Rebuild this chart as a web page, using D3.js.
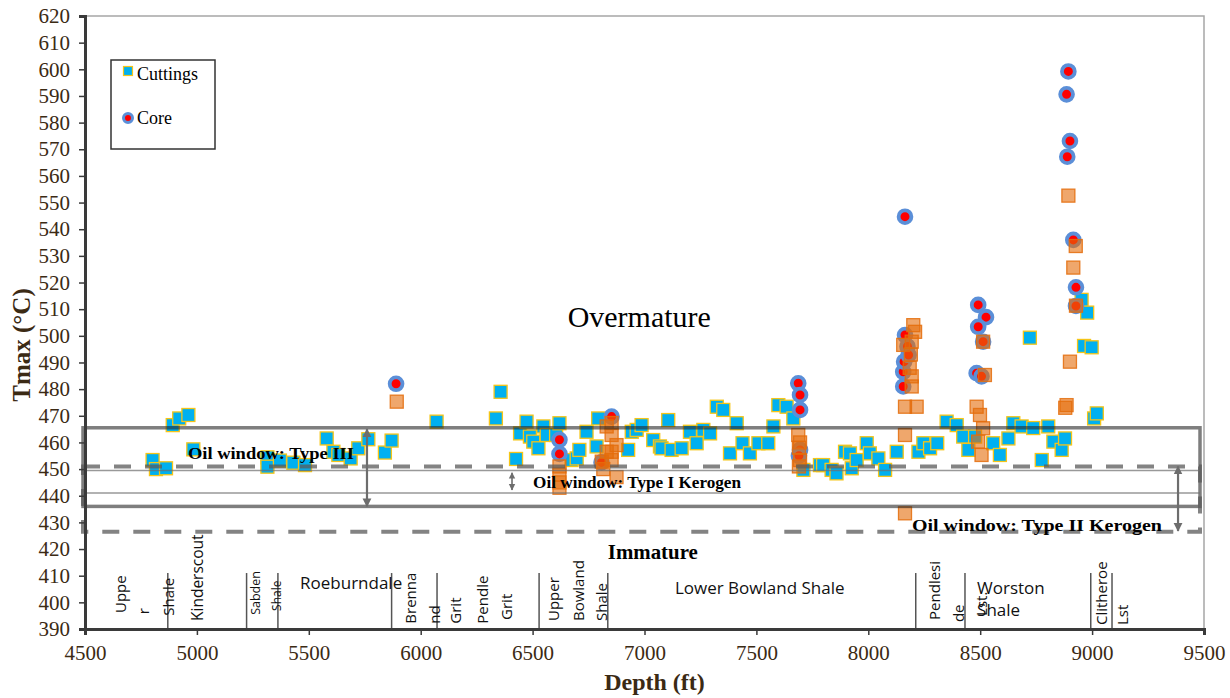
<!DOCTYPE html>
<html>
<head>
<meta charset="utf-8">
<script src="https://cdn.jsdelivr.net/npm/d3@7/dist/d3.min.js"></script>
<style>
  html, body { margin: 0; padding: 0; background: #fff; }
  svg { display: block; }
</style>
</head>
<body>
<svg id="chart" width="1230" height="698"></svg>
<script>
// ---- Tmax vs depth data ----
const cuttingsDepth = [4802,4817,4862,4892,4921,4962,4984,5315,5315,5371,5431,5483,5580,5610,5632,5687,5721,5766,5840,5870,
  6071,6336,6357,6426,6444,6473,6488,6503,6526,6548,6563,6605,6620,6674,6697,6709,6741,6786,6793,6927,6943,6965,6987,7039,
  7069,7076,7106,7121,7166,7203,7233,7263,7293,7323,7352,7382,7412,7438,7471,7509,7553,7576,7598,7635,7665,7710,7784,7798,
  7836,7858,7896,7918,7926,7948,7993,8007,8045,8075,8127,8224,8246,8276,8308,8350,8395,8424,8447,8477,8558,8588,8626,8648,
  8685,8722,8737,8775,8804,8827,8864,8879,8953,8964,8978,8998,9009,9021];
const cuttingsTmax = [453.4,450.0,450.3,466.5,469.0,470.3,457.4,454.4,450.9,453.2,452.4,451.5,461.5,456.5,455.3,454.0,457.8,461.2,456.2,460.7,
  467.8,469.0,479.0,453.8,463.4,467.8,462.2,460.3,457.8,466.0,462.8,462.8,467.2,453.4,454.0,457.2,464.0,458.5,469.0,457.2,464.0,464.7,466.5,460.9,
  458.5,457.8,468.4,457.2,457.8,464.0,459.7,464.7,463.4,473.4,472.2,455.9,467.2,459.7,455.9,459.7,459.7,466.0,474.0,473.4,469.0,449.7,451.5,451.5,
  449.7,448.4,456.5,455.9,450.3,453.4,459.7,455.9,454.0,449.7,456.5,456.5,459.7,457.8,459.7,467.8,466.5,462.2,457.2,462.2,459.7,455.3,461.5,467.2,
  466.0,499.3,465.4,453.4,466.0,460.3,457.2,461.5,513.5,496.2,508.7,495.7,469.0,470.9];

const coreDepth = [5890,6620,6620,6808,6853,7687,7695,7695,7695,7690,8156,8156,8160,8164,8175,8180,8164,
  8491,8526,8491,8513,8484,8506,8894,8886,8901,8889,8916,8928,8928];
const coreTmax = [482.0,461.0,455.7,452.5,469.7,482.2,477.8,472.2,457.2,455.0,481.0,486.5,490.3,500.3,496.0,492.8,544.7,
  511.6,507.0,503.4,497.8,486.0,484.8,599.2,590.6,573.1,567.2,536.0,518.2,511.2];

const sidewallDepth = [5893,6620,6620,6620,6620,6809,6816,6831,6853,6853,6875,6831,6853,6853,6875,
  7687,7695,7690,7695,7690,8156,8194,8201,8209,8190,8185,8194,8194,8164,8216,8164,8164,
  8513,8521,8484,8499,8513,8491,8506,8894,8927,8916,8928,8901,8886,8880];
const sidewallTmax = [475.3,451.0,448.0,445.0,443.0,452.8,450.0,466.0,467.3,462.8,459.0,456.5,456.5,453.4,447.0,
  462.8,460.0,458.0,453.4,451.0,496.6,497.8,504.0,501.5,493.0,488.0,484.8,481.0,473.4,473.4,462.8,433.4,
  497.8,485.3,473.4,470.3,465.3,460.3,455.3,552.6,533.7,525.6,511.3,490.3,474.0,473.0];

// oil window Tmax limits (°C)
const typeIIIWindow = [436, 465.5];
const typeIIWindow = [426.5, 451];
const typeIWindow = [441, 449.5];

// formation boundaries (ft)
const formationTops = [4870, 5222, 5362, 5870, 6073, 6529, 6836, 8212, 8432, 8994, 9089];

const xTicks = d3.range(4500, 9501, 500);
const yTicks = d3.range(390, 621, 10);

// formation names: vertical word pieces and horizontal names
const verticalNames = [
  {t: "Uppe", d: 4661, y: 396, s: 15}, {t: "r", d: 4764, y: 395.5, s: 15},
  {t: "Shale", d: 4875, y: 395, s: 15}, {t: "Kinderscout", d: 5005, y: 393, s: 15.5},
  {t: "Sabden", d: 5264, y: 395.3, s: 12.5}, {t: "Shale", d: 5358, y: 396.8, s: 12},
  {t: "Brenna", d: 5957, y: 392, s: 15}, {t: "nd", d: 6064, y: 392, s: 15},
  {t: "Grit", d: 6158, y: 392, s: 15}, {t: "Pendle", d: 6278, y: 392, s: 15},
  {t: "Grit", d: 6386, y: 393.4, s: 15}, {t: "Upper", d: 6596, y: 393, s: 15},
  {t: "Bowland", d: 6707, y: 393, s: 15}, {t: "Shale", d: 6810, y: 393, s: 15},
  {t: "Pendlesi", d: 8298, y: 393.4, s: 15}, {t: "de", d: 8405, y: 392.6, s: 15},
  {t: "Lst.", d: 8508, y: 394.9, s: 15}, {t: "Clitheroe", d: 9044, y: 391.5, s: 15},
  {t: "Lst", d: 9138, y: 391.5, s: 15}
];
const horizontalNames = [
  {t: "Roeburndale", d: 5461, y: 405}, {t: "Lower Bowland Shale", d: 7136, y: 403.1},
  {t: "Worston", d: 8486, y: 403.1}, {t: "Shale", d: 8486, y: 394.9}
];

// ---- layout ----
const svg = d3.select("#chart");
const x = d3.scaleLinear().domain([4500, 9500]).range([85, 1204]);
const y = d3.scaleLinear().domain([390, 620]).range([629, 16]);
const serif = "'Liberation Serif', 'Times New Roman', serif";
const sans = "'Open Sans', 'Noto Sans', sans-serif";

// plot frame (top/right)
svg.append("rect")
  .attr("x", x(4500)).attr("y", y(620))
  .attr("width", x(9500) - x(4500)).attr("height", y(390) - y(620))
  .attr("fill", "none").attr("stroke", "#a6a6a6").attr("stroke-width", 1.5);

// formation boundaries
svg.append("g").selectAll("line").data(formationTops).join("line")
  .attr("x1", d => x(d)).attr("x2", d => x(d))
  .attr("y1", y(411)).attr("y2", y(390))
  .attr("stroke", "#555").attr("stroke-width", 1.5);

svg.append("g").selectAll("text").data(verticalNames).join("text")
  .attr("transform", d => `translate(${x(d.d)},${y(d.y)}) rotate(-90)`)
  .attr("dy", "0.35em")
  .attr("font-family", sans).attr("font-size", d => d.s)
  .attr("fill", "#111")
  .text(d => d.t);

svg.append("g").selectAll("text").data(horizontalNames).join("text")
  .attr("x", d => x(d.d)).attr("y", d => y(d.y))
  .attr("font-family", sans).attr("font-size", 17)
  .attr("fill", "#111")
  .text(d => d.t);

// ---- markers ----
const sq = 13;
svg.append("g").selectAll("rect").data(cuttingsDepth).join("rect")
  .attr("x", (d, i) => x(d) - sq / 2)
  .attr("y", (d, i) => y(cuttingsTmax[i]) - sq / 2)
  .attr("width", sq).attr("height", sq)
  .attr("fill", "#00b0f0").attr("stroke", "#f5c518").attr("stroke-width", 1.3);

svg.append("g").selectAll("circle").data(coreDepth).join("circle")
  .attr("cx", d => x(d))
  .attr("cy", (d, i) => y(coreTmax[i]))
  .attr("r", 6.4)
  .attr("fill", "#ff0000").attr("stroke", "#5b8fd8").attr("stroke-width", 3.8);

svg.append("g").selectAll("rect").data(sidewallDepth).join("rect")
  .attr("x", d => x(d) - sq / 2)
  .attr("y", (d, i) => y(sidewallTmax[i]) - sq / 2)
  .attr("width", sq).attr("height", sq)
  .attr("fill", "#e46c0a").attr("fill-opacity", 0.6)
  .attr("stroke", "#e46c0a").attr("stroke-opacity", 0.85).attr("stroke-width", 1.3);

// ---- oil windows ----
const xL = 83, xR = 1200;
const win = svg.append("g");
// Type III (solid box)
win.append("rect")
  .attr("x", xL).attr("y", y(typeIIIWindow[1]))
  .attr("width", xR - xL).attr("height", y(typeIIIWindow[0]) - y(typeIIIWindow[1]))
  .attr("fill", "none").attr("stroke", "rgba(40,40,40,0.6)").attr("stroke-width", 3.5);
// Type II (dashed box)
win.append("rect")
  .attr("x", xL).attr("y", y(typeIIWindow[1]))
  .attr("width", xR - xL).attr("height", y(typeIIWindow[0]) - y(typeIIWindow[1]))
  .attr("fill", "none").attr("stroke", "rgba(90,90,90,0.75)").attr("stroke-width", 4)
  .attr("stroke-dasharray", "17,14");
// Type I (thin lines)
win.selectAll("line.t1").data(typeIWindow).join("line")
  .attr("x1", xL).attr("x2", xR)
  .attr("y1", d => y(d)).attr("y2", d => y(d))
  .attr("stroke", "rgba(110,110,110,0.7)").attr("stroke-width", 1.5);

// double-headed arrows
const defs = svg.append("defs");
defs.append("marker").attr("id", "ah").attr("viewBox", "0 0 10 10")
  .attr("refX", 9).attr("refY", 5).attr("markerWidth", 4).attr("markerHeight", 5)
  .attr("orient", "auto-start-reverse")
  .append("path").attr("d", "M0,0 L10,5 L0,10 Z").attr("fill", "#6d6d6d");

const arrows = [
  {d: 5760, a: 465, b: 436, w: 2.2},
  {d: 6408, a: 448.6, b: 442.2, w: 1.6},
  {d: 9384, a: 451, b: 426.8, w: 2.2}
];
svg.append("g").selectAll("line").data(arrows).join("line")
  .attr("x1", d => x(d.d)).attr("x2", d => x(d.d))
  .attr("y1", d => y(d.a)).attr("y2", d => y(d.b))
  .attr("stroke", "#6d6d6d").attr("stroke-width", d => d.w)
  .attr("marker-start", "url(#ah)").attr("marker-end", "url(#ah)");

// window and maturity labels (len = rendered width in px)
const notes = [
  {t: "Oil window: Type III", d: 4960, y: 453.6, s: 17, w: "bold", len: 166},
  {t: "Oil window:  Type I Kerogen", d: 6502, y: 443, s: 16.5, w: "bold", len: 208},
  {t: "Oil window:  Type II Kerogen", d: 8195, y: 426.6, s: 17.5, w: "bold", len: 250},
  {t: "Immature", d: 6836, y: 416.3, s: 20.5, w: "bold", len: 90},
  {t: "Overmature", d: 6657, y: 503.3, s: 30, w: "normal", len: 143}
];
svg.append("g").selectAll("text").data(notes).join("text")
  .attr("x", d => x(d.d)).attr("y", d => y(d.y))
  .attr("font-family", serif).attr("font-size", d => d.s)
  .attr("font-weight", d => d.w).attr("fill", "#000")
  .attr("textLength", d => d.len).attr("lengthAdjust", "spacingAndGlyphs")
  .text(d => d.t);

// ---- axes ----
const tickColor = "#3b2a14";
const xAxis = svg.append("g").attr("transform", `translate(0,${y(390)})`)
  .call(d3.axisBottom(x).tickValues(xTicks).tickSize(6).tickPadding(8).tickFormat(d3.format("d")));
const yAxis = svg.append("g").attr("transform", `translate(${x(4500)},0)`)
  .call(d3.axisLeft(y).tickValues(yTicks).tickSize(6).tickPadding(9).tickFormat(d3.format("d")));
[xAxis, yAxis].forEach(g => {
  g.select(".domain").attr("stroke", "#3a3a3a").attr("stroke-width", 3);
  g.selectAll(".tick line").attr("stroke", "#3a3a3a").attr("stroke-width", 1.5);
  g.selectAll(".tick text").attr("font-family", serif).attr("font-size", 21).attr("fill", tickColor);
});
xAxis.selectAll(".tick text").attr("dy", "0.8em");

svg.append("text")
  .attr("x", (x(4500) + x(9500)) / 2 + 10).attr("y", 690)
  .attr("text-anchor", "middle")
  .attr("font-family", serif).attr("font-size", 24).attr("font-weight", "bold").attr("fill", tickColor)
  .text("Depth (ft)");
svg.append("text")
  .attr("transform", `translate(30,${345}) rotate(-90)`)
  .attr("text-anchor", "middle")
  .attr("font-family", serif).attr("font-size", 25).attr("font-weight", "bold").attr("fill", tickColor)
  .text("Tmax (°C)");

// ---- legend ----
const lg = svg.append("g");
lg.append("rect").attr("x", 111).attr("y", 60).attr("width", 104).attr("height", 89)
  .attr("fill", "#fff").attr("stroke", "#333").attr("stroke-width", 1.5);
lg.append("rect").attr("x", 123.5).attr("y", 66.5).attr("width", 9).attr("height", 9)
  .attr("fill", "#00b0f0").attr("stroke", "#f5c518").attr("stroke-width", 1.2);
lg.append("circle").attr("cx", 128).attr("cy", 118).attr("r", 4.5)
  .attr("fill", "#ff0000").attr("stroke", "#5b8fd8").attr("stroke-width", 3);
lg.append("text").attr("x", 137).attr("y", 80).attr("font-family", serif).attr("font-size", 18).attr("fill", "#000").text("Cuttings");
lg.append("text").attr("x", 137).attr("y", 124).attr("font-family", serif).attr("font-size", 18).attr("fill", "#000").text("Core");
</script>
</body>
</html>
